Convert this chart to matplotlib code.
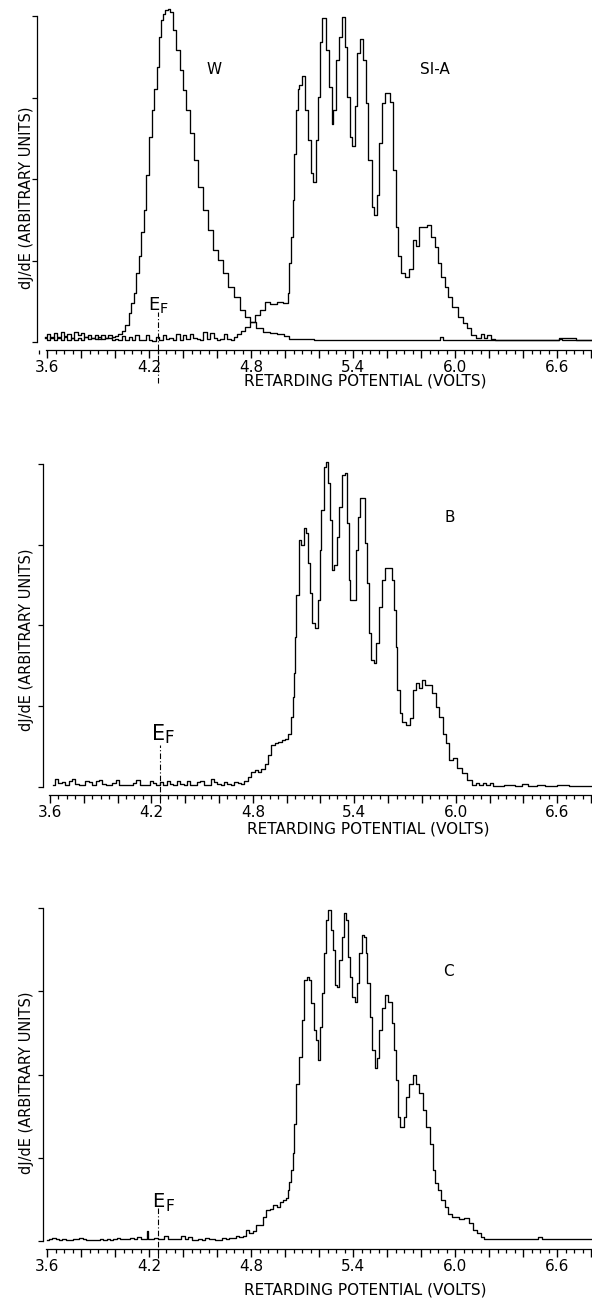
import matplotlib
matplotlib.use("Agg")
import matplotlib.pyplot as plt
from matplotlib.ticker import FixedLocator, MultipleLocator, FixedFormatter

W_PX, H_PX = 592, 1302

# --- panel A : tungsten (W) reference and sample Si-A ---
w_volts = [3.59, 3.61, 3.63, 3.65, 3.67, 3.69, 3.71, 3.73, 3.75, 3.77, 3.79, 3.81, 3.83,
           3.85, 3.87, 3.89, 3.91, 3.93, 3.95, 3.97, 3.99, 4.01, 4.03, 4.05, 4.07, 4.09,
           4.10, 4.12, 4.13, 4.15, 4.16, 4.18, 4.19, 4.21, 4.22, 4.24, 4.25, 4.265, 4.28,
           4.29, 4.30, 4.32, 4.33, 4.35, 4.37, 4.39, 4.41, 4.43, 4.45, 4.48, 4.50, 4.53,
           4.56, 4.59, 4.62, 4.65, 4.68, 4.72, 4.75, 4.78, 4.81, 4.85, 4.89, 4.93, 4.98,
           5.01, 5.04, 5.30, 5.60, 5.90, 5.92, 5.94, 6.20, 6.50, 6.60, 6.62, 6.80]
w_vals = [0.05, 0.03, 0.06, 0.03, 0.05, 0.02, 0.06, 0.03, 0.05, 0.02, 0.05, 0.03, 0.06,
          0.04, 0.05, 0.04, 0.06, 0.04, 0.05, 0.05, 0.06, 0.07, 0.10, 0.14, 0.21, 0.35,
          0.48, 0.60, 0.85, 1.05, 1.35, 1.62, 2.05, 2.52, 2.85, 3.10, 3.38, 3.74, 3.95,
          4.02, 4.07, 4.08, 4.05, 3.83, 3.58, 3.34, 3.09, 2.85, 2.56, 2.23, 1.90, 1.62,
          1.37, 1.13, 1.01, 0.85, 0.67, 0.55, 0.39, 0.31, 0.25, 0.17, 0.12, 0.11, 0.10,
          0.07, 0.04, 0.03, 0.03, 0.03, 0.06, 0.03, 0.03, 0.03, 0.03, 0.05, 0.03]

sia_volts = [3.59, 3.61, 3.63, 3.65, 3.67, 3.69, 3.71, 3.73, 3.75, 3.77, 3.79, 3.81, 3.83,
             3.85, 3.87, 3.89, 3.91, 3.93, 3.95, 3.97, 3.99, 4.01, 4.03, 4.05, 4.07, 4.09,
             4.11, 4.13, 4.15, 4.17, 4.19, 4.21, 4.23, 4.25, 4.27, 4.29, 4.31, 4.33, 4.35,
             4.37, 4.39, 4.41, 4.43, 4.45, 4.47, 4.49, 4.51, 4.53, 4.55, 4.57, 4.59, 4.61,
             4.63, 4.65, 4.67, 4.69, 4.71, 4.73, 4.75, 4.78, 4.81, 4.84, 4.87, 4.89, 4.93,
             4.97, 5.01, 5.02, 5.03, 5.04, 5.05, 5.06, 5.07, 5.08, 5.09, 5.11, 5.13, 5.14,
             5.16, 5.17, 5.19, 5.20, 5.21, 5.23, 5.25, 5.27, 5.28, 5.29, 5.31, 5.33, 5.34,
             5.36, 5.37, 5.39, 5.40, 5.42, 5.43, 5.45, 5.47, 5.48, 5.50, 5.52, 5.53, 5.55,
             5.56, 5.58, 5.60, 5.63, 5.64, 5.66, 5.67, 5.69, 5.72, 5.74, 5.76, 5.78, 5.80,
             5.82, 5.85, 5.87, 5.89, 5.91, 5.93, 5.95, 5.97, 6.00, 6.03, 6.06, 6.08, 6.11,
             6.14, 6.16, 6.18, 6.20, 6.22, 6.25, 6.40, 6.60, 6.62, 6.64, 6.80]
sia_vals = [0.06, 0.10, 0.05, 0.11, 0.06, 0.12, 0.07, 0.10, 0.05, 0.12, 0.08, 0.11, 0.06,
            0.09, 0.05, 0.08, 0.04, 0.09, 0.05, 0.08, 0.03, 0.04, 0.02, 0.07, 0.02, 0.06,
            0.02, 0.09, 0.02, 0.03, 0.08, 0.02, 0.01, 0.06, 0.03, 0.09, 0.04, 0.05, 0.03,
            0.10, 0.03, 0.08, 0.04, 0.10, 0.05, 0.04, 0.03, 0.12, 0.04, 0.11, 0.05, 0.03,
            0.04, 0.10, 0.04, 0.03, 0.06, 0.10, 0.14, 0.18, 0.25, 0.33, 0.39, 0.49, 0.47,
            0.49, 0.48, 0.60, 0.97, 1.29, 1.74, 2.31, 2.85, 3.11, 3.15, 3.26, 2.85, 2.48,
            2.07, 1.96, 2.48, 3.01, 3.68, 3.97, 3.58, 3.13, 2.68, 2.85, 3.46, 3.74, 3.99,
            3.62, 3.01, 2.52, 2.40, 2.90, 3.54, 3.72, 3.46, 2.93, 2.23, 1.66, 1.56, 1.80,
            2.44, 2.93, 3.05, 2.95, 2.11, 1.41, 1.05, 0.85, 0.80, 0.90, 1.25, 1.18, 1.41,
            1.41, 1.44, 1.29, 1.17, 0.97, 0.80, 0.67, 0.55, 0.43, 0.31, 0.23, 0.17, 0.09,
            0.05, 0.10, 0.05, 0.09, 0.04, 0.02, 0.02, 0.02, 0.04, 0.02, 0.02]

# --- panel B ---
b_volts = [3.62, 3.64, 3.66, 3.68, 3.70, 3.72, 3.74, 3.76, 3.78, 3.80, 3.82, 3.84, 3.86,
           3.88, 3.90, 3.92, 3.94, 3.96, 3.98, 4.00, 4.02, 4.04, 4.06, 4.08, 4.10, 4.12,
           4.14, 4.16, 4.18, 4.20, 4.22, 4.24, 4.26, 4.28, 4.30, 4.32, 4.34, 4.36, 4.38,
           4.40, 4.42, 4.44, 4.46, 4.48, 4.50, 4.52, 4.54, 4.56, 4.58, 4.60, 4.62, 4.64,
           4.66, 4.68, 4.70, 4.72, 4.74, 4.76, 4.78, 4.80, 4.82, 4.84, 4.86, 4.88, 4.90,
           4.92, 4.94, 4.96, 4.98, 5.00, 5.02, 5.03, 5.04, 5.045, 5.05, 5.065, 5.08, 5.095,
           5.11, 5.12, 5.13, 5.145, 5.16, 5.18, 5.19, 5.20, 5.21, 5.23, 5.24, 5.25, 5.26,
           5.275, 5.29, 5.305, 5.32, 5.335, 5.35, 5.36, 5.375, 5.38, 5.40, 5.415, 5.43,
           5.44, 5.46, 5.47, 5.48, 5.49, 5.51, 5.52, 5.535, 5.555, 5.57, 5.59, 5.62, 5.63,
           5.64, 5.65, 5.66, 5.675, 5.69, 5.72, 5.74, 5.76, 5.77, 5.79, 5.81, 5.83, 5.85,
           5.875, 5.895, 5.91, 5.935, 5.95, 5.97, 6.00, 6.02, 6.05, 6.08, 6.11, 6.13, 6.15,
           6.17, 6.19, 6.21, 6.23, 6.34, 6.36, 6.42, 6.44, 6.52, 6.54, 6.66, 6.68, 6.80]
b_vals = [0.02, 0.10, 0.05, 0.06, 0.03, 0.08, 0.10, 0.04, 0.02, 0.02, 0.08, 0.06, 0.02,
          0.08, 0.09, 0.04, 0.02, 0.02, 0.05, 0.09, 0.02, 0.02, 0.02, 0.02, 0.05, 0.09,
          0.02, 0.02, 0.02, 0.07, 0.05, 0.02, 0.06, 0.03, 0.07, 0.04, 0.02, 0.07, 0.04,
          0.03, 0.08, 0.03, 0.02, 0.06, 0.07, 0.02, 0.03, 0.10, 0.06, 0.04, 0.03, 0.06,
          0.04, 0.03, 0.06, 0.05, 0.04, 0.08, 0.12, 0.19, 0.21, 0.18, 0.22, 0.29, 0.40,
          0.52, 0.55, 0.56, 0.58, 0.60, 0.66, 0.87, 1.11, 1.41, 1.86, 2.38, 3.06, 3.00,
          3.21, 3.15, 2.77, 2.40, 2.03, 1.97, 2.32, 2.93, 3.43, 3.96, 4.03, 3.76, 3.31,
          2.69, 2.75, 3.10, 3.47, 3.86, 3.89, 3.27, 2.56, 2.32, 2.31, 2.93, 3.34,
          3.58, 3.58, 3.02, 2.53, 1.91, 1.57, 1.54, 1.78, 2.23, 2.56, 2.71, 2.71, 2.56,
          2.19, 1.73, 1.20, 0.92, 0.81, 0.77, 0.85, 1.20, 1.29, 1.22, 1.32, 1.26, 1.26,
          1.16, 0.99, 0.87, 0.66, 0.54, 0.33, 0.36, 0.24, 0.17, 0.09, 0.02, 0.05, 0.03,
          0.05, 0.02, 0.05, 0.01, 0.03, 0.01, 0.04, 0.01, 0.03, 0.01, 0.03, 0.01, 0.01]

# --- panel C ---
c_volts = [3.60, 3.62, 3.64, 3.66, 3.68, 3.70, 3.72, 3.74, 3.76, 3.78, 3.80, 3.82, 3.84,
           3.86, 3.88, 3.90, 3.92, 3.94, 3.96, 3.98, 4.00, 4.02, 4.04, 4.06, 4.08, 4.10,
           4.12, 4.14, 4.16, 4.18, 4.19, 4.20, 4.22, 4.24, 4.26, 4.28, 4.30, 4.32, 4.34,
           4.36, 4.38, 4.40, 4.42, 4.44, 4.46, 4.48, 4.50, 4.52, 4.54, 4.56, 4.58, 4.60,
           4.62, 4.64, 4.66, 4.68, 4.70, 4.72, 4.74, 4.76, 4.78, 4.80, 4.82, 4.84, 4.86,
           4.88, 4.90, 4.92, 4.94, 4.96, 4.98, 5.00, 5.01, 5.02, 5.03, 5.04, 5.05, 5.06,
           5.07, 5.09, 5.105, 5.12, 5.135, 5.15, 5.16, 5.18, 5.19, 5.20, 5.21, 5.22, 5.235,
           5.25, 5.26, 5.275, 5.29, 5.30, 5.31, 5.33, 5.34, 5.355, 5.365, 5.38, 5.39, 5.40,
           5.42, 5.43, 5.44, 5.46, 5.47, 5.48, 5.49, 5.505, 5.52, 5.535, 5.55, 5.56, 5.58,
           5.595, 5.62, 5.635, 5.645, 5.66, 5.665, 5.69, 5.705, 5.72, 5.74, 5.76, 5.78,
           5.80, 5.82, 5.84, 5.86, 5.88, 5.89, 5.91, 5.93, 5.95, 5.97, 5.99, 6.01, 6.04,
           6.07, 6.09, 6.12, 6.14, 6.16, 6.18, 6.22, 6.48, 6.50, 6.52, 6.80]
c_vals = [0.01, 0.02, 0.04, 0.02, 0.01, 0.02, 0.01, 0.01, 0.03, 0.02, 0.04, 0.03, 0.01,
          0.01, 0.01, 0.01, 0.02, 0.01, 0.03, 0.01, 0.02, 0.04, 0.02, 0.03, 0.02, 0.04,
          0.03, 0.05, 0.02, 0.03, 0.12, 0.03, 0.02, 0.04, 0.03, 0.02, 0.06, 0.02, 0.02,
          0.03, 0.02, 0.06, 0.02, 0.05, 0.01, 0.01, 0.02, 0.01, 0.04, 0.03, 0.02, 0.01,
          0.01, 0.04, 0.02, 0.04, 0.04, 0.06, 0.05, 0.06, 0.13, 0.10, 0.12, 0.19, 0.19,
          0.29, 0.37, 0.39, 0.43, 0.41, 0.47, 0.49, 0.52, 0.61, 0.71, 0.85, 1.06, 1.41,
          1.89, 2.21, 2.65, 3.13, 3.17, 3.13, 2.86, 2.53, 2.41, 2.17, 2.57, 2.98, 3.46,
          3.85, 3.97, 3.73, 3.49, 3.07, 3.05, 3.37, 3.65, 3.94, 3.85, 3.41, 3.17, 2.93,
          2.87, 3.10, 3.46, 3.67, 3.65, 3.46, 3.10, 2.69, 2.29, 2.08, 2.20, 2.53, 2.80,
          2.95, 2.87, 2.62, 2.29, 1.93, 1.49, 1.37, 1.49, 1.73, 1.89, 1.99, 1.88,
          1.78, 1.57, 1.37, 1.17, 0.85, 0.70, 0.61, 0.49, 0.41, 0.33, 0.29, 0.29, 0.27,
          0.28, 0.22, 0.13, 0.10, 0.05, 0.03, 0.02, 0.02, 0.05, 0.02, 0.02]

major_ticks = [3.6, 3.8, 4.0, 4.2, 4.4, 4.6, 4.8, 5.0, 5.2, 5.4, 5.6, 5.8, 6.0, 6.2, 6.4, 6.6, 6.8]
major_labels = ["3.6", "", "", "4.2", "", "", "4.8", "", "", "5.4", "", "", "6.0", "", "", "6.6", ""]
fermi_level = 4.25

FONT = "DejaVu Sans"


def fx(x):
    return x / W_PX


def fy(y):
    return 1 - y / H_PX


def make_panel(fig, left_px, top_px, base_px, x0):
    # one panel: y axis line with 4 divisions, x "ruler" hung a few px under the baseline
    ax = fig.add_axes([fx(left_px), fy(base_px), fx(591 - left_px), (base_px - top_px) / H_PX])
    ax.set_xlim(x0, 6.8)
    ax.set_ylim(0, 4)
    ax.patch.set_visible(False)
    for s in ["top", "right"]:
        ax.spines[s].set_visible(False)
    ax.spines["left"].set_bounds(0, 4)
    ax.spines["left"].set_linewidth(0.9)
    ax.spines["bottom"].set_position(("outward", 6))
    ax.spines["bottom"].set_bounds(3.595, 6.8)
    ax.spines["bottom"].set_linewidth(0.9)
    ax.set_yticks([0, 1, 2, 3, 4])
    ax.tick_params(axis="y", direction="out", length=3.6, width=0.9, labelleft=False)
    ax.xaxis.set_major_locator(FixedLocator(major_ticks))
    ax.xaxis.set_major_formatter(FixedFormatter(major_labels))
    ax.xaxis.set_minor_locator(MultipleLocator(0.05))
    ax.tick_params(axis="x", which="major", direction="out", length=5.5, width=1.0,
                   pad=1.5, labelsize=11)
    ax.tick_params(axis="x", which="minor", direction="out", length=3.2, width=0.9)
    for lab in ax.get_xticklabels():
        lab.set_family(FONT)
    return ax


def fermi_marker(ax, y_top, y_bot, e_x, e_y, f_x, f_y, size):
    ax.plot([fermi_level, fermi_level], [y_bot, y_top], color="black", lw=0.8,
            linestyle=(0, (5, 2, 1, 2)), clip_on=False)
    ax.text(e_x, e_y, "E", fontsize=size, family=FONT, ha="left", va="baseline")
    ax.text(f_x, f_y, "F", fontsize=size * 0.8, family=FONT, ha="left", va="baseline")


fig = plt.figure(figsize=(W_PX / 100, H_PX / 100), dpi=100)

# panel A
ax_a = make_panel(fig, 37, 16, 342, 3.541)
ax_a.plot(w_volts, w_vals, drawstyle="steps-mid", color="black", lw=0.95, clip_on=False)
ax_a.plot(sia_volts, sia_vals, drawstyle="steps-mid", color="black", lw=0.95, clip_on=False)
fermi_marker(ax_a, 0.37, -0.50, 4.194, 0.39, 4.265, 0.35, 13)

# panel B
ax_b = make_panel(fig, 43, 464, 787, 3.559)
ax_b.plot(b_volts, b_vals, drawstyle="steps-mid", color="black", lw=0.95, clip_on=False)
fermi_marker(ax_b, 0.52, -0.20, 4.204, 0.58, 4.275, 0.54, 15)

# panel C
ax_c = make_panel(fig, 43, 908, 1241, 3.576)
ax_c.plot(c_volts, c_vals, drawstyle="steps-mid", color="black", lw=0.95, clip_on=False)
fermi_marker(ax_c, 0.41, -0.20, 4.218, 0.41, 4.294, 0.36, 14)

# labels
for xl, yl in [(365, 381), (368, 829), (365, 1290)]:
    fig.text(fx(xl), fy(yl), "RETARDING POTENTIAL (VOLTS)", fontsize=11, family=FONT,
             ha="center", va="center")
for yl in [198, 640, 1083]:
    fig.text(fx(27), fy(yl), "dJ/dE (ARBITRARY UNITS)", fontsize=10.5, family=FONT,
             rotation=90, ha="center", va="center")

fig.text(fx(214), fy(70), "W", fontsize=11, family=FONT, ha="center", va="center")
fig.text(fx(435), fy(69), "SI-A", fontsize=11, family=FONT, ha="center", va="center")
fig.text(fx(450), fy(518), "B", fontsize=11, family=FONT, ha="center", va="center")
fig.text(fx(448), fy(971), "C", fontsize=11, family=FONT, ha="center", va="center")

fig.savefig("out.png", dpi=100, facecolor="white")
